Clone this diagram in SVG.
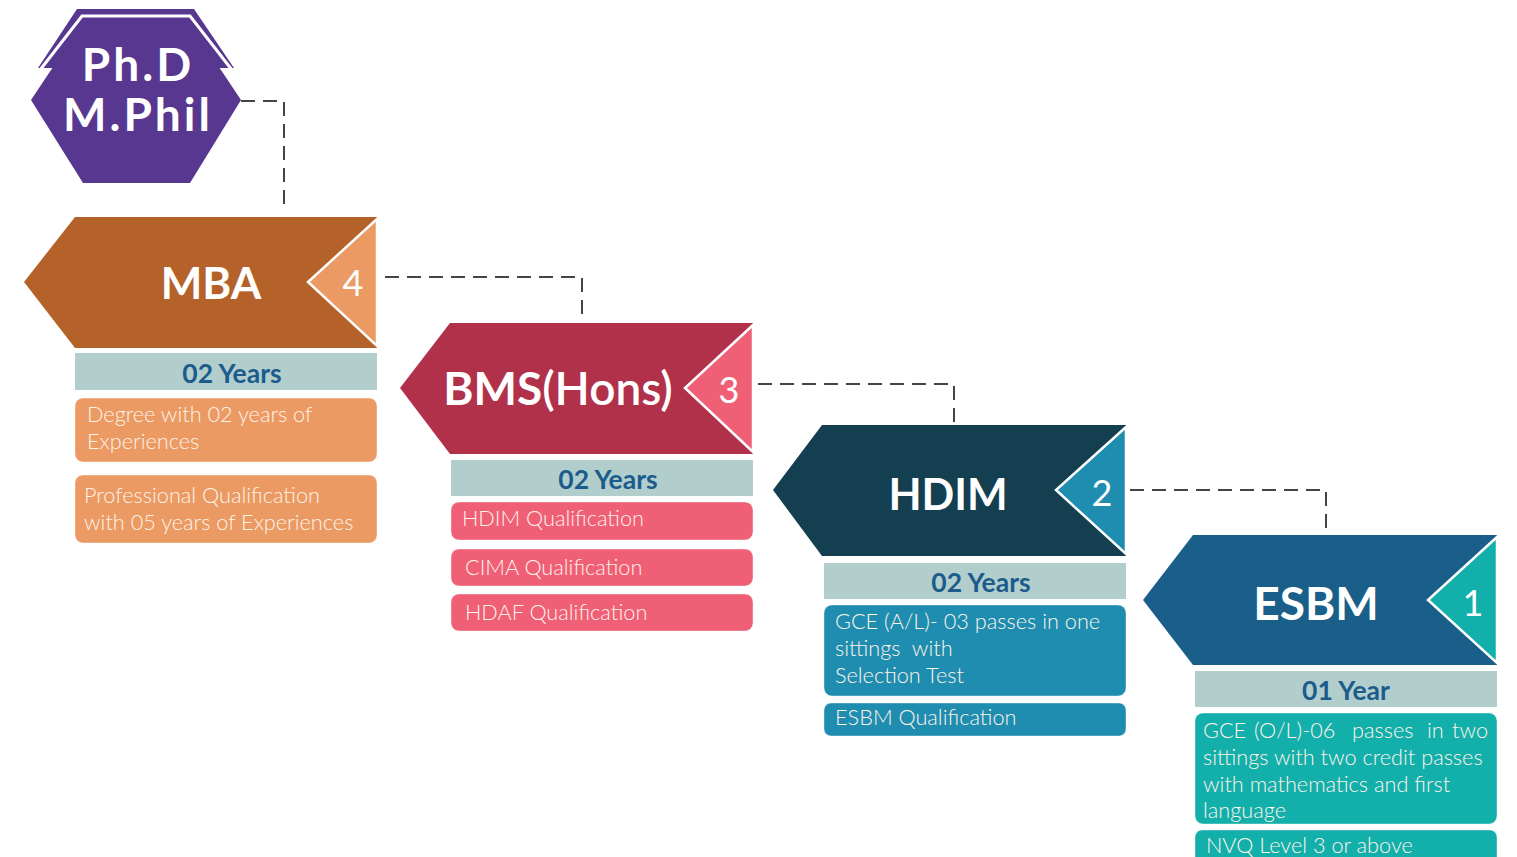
<svg xmlns="http://www.w3.org/2000/svg" width="1517" height="857" viewBox="0 0 1517 857">
<style>
.conn{fill:none;stroke:#444;stroke-width:2;stroke-dasharray:14 8}
.title{font-family:Lato,"Open Sans",sans-serif;font-weight:bold;fill:#fff;text-anchor:middle}
.num{font-family:Lato,"Open Sans",sans-serif;font-size:36px;fill:#fff;text-anchor:middle}
.yrs{font-family:Lato,"Open Sans",sans-serif;font-weight:bold;font-size:26.5px;fill:#1B5C8C;text-anchor:middle}
.bar{fill:#B2CECC}
.body{font-family:Lato,"Open Sans",sans-serif;font-size:21.7px;font-weight:300;fill:#FFF3EA}
.tri{stroke:#fff;stroke-width:2.5}
.box{stroke:#fff;stroke-opacity:0.4;stroke-width:1}
</style>
<rect width="1517" height="857" fill="#fff"/>
<g id="connectors">
<path class="conn" d="M241,101 H284 V210"/>
<path class="conn" d="M385,277 H582 V320"/>
<path class="conn" d="M758,384 H954 V424"/>
<path class="conn" d="M1130,490 H1326 V532"/>
</g>
<g id="phd">
<polygon points="38,68 77,9 194,9 234,68" fill="#57378F"/>
<polygon points="31,100 85,19 187,19 241,100 190,183 83,183" fill="#57378F"/>
<polyline points="40,70 82,16 190,16 232,70" fill="none" stroke="#fff" stroke-width="3"/>
<text class="title" x="138" y="81" font-size="46" letter-spacing="3">Ph.D</text>
<text class="title" x="138" y="131" font-size="46" letter-spacing="3">M.Phil</text>
</g>
<g id="mba">
<polygon points="24,282 75,217 377,217 377,348 75,348" fill="#B5622A"/>
<polygon class="tri" points="377,219 308,282 377,346" fill="#EA9A62"/>
<text class="title" x="211" y="299" font-size="44">MBA</text>
<text class="num" x="353" y="296">4</text>
<rect class="bar" x="75" y="353" width="302" height="37"/>
<text class="yrs" x="232" y="383">02 Years</text>
<rect class="box" x="75" y="398" width="302" height="64" rx="8" fill="#EA9A62"/>
<text class="body" x="87" y="422">Degree with 02 years of</text>
<text class="body" x="87" y="449">Experiences</text>
<rect class="box" x="75" y="475" width="302" height="68" rx="8" fill="#EA9A62"/>
<text class="body" x="84" y="503">Professional Qualification</text>
<text class="body" x="84" y="530">with 05 years of Experiences</text>
</g>
<g id="bms">
<polygon points="400,388 450,323 753,323 753,454 450,454" fill="#B2314A"/>
<polygon class="tri" points="753,325 685,388 753,452" fill="#EF5F75"/>
<text class="title" x="558" y="405" font-size="46">BMS<tspan font-weight="600">(Hons)</tspan></text>
<text class="num" x="729" y="403">3</text>
<rect class="bar" x="451" y="460" width="302" height="36"/>
<text class="yrs" x="608" y="489">02 Years</text>
<rect class="box" x="451" y="502" width="302" height="38" rx="8" fill="#EF5F75"/>
<text class="body" x="462" y="526">HDIM Qualification</text>
<rect class="box" x="451" y="549" width="302" height="37" rx="8" fill="#EF5F75"/>
<text class="body" x="465" y="575">CIMA Qualification</text>
<rect class="box" x="451" y="594" width="302" height="37" rx="8" fill="#EF5F75"/>
<text class="body" x="465" y="620">HDAF Qualification</text>
</g>
<g id="hdim">
<polygon points="773,490 822,425 1126,425 1126,556 822,556" fill="#133F50"/>
<polygon class="tri" points="1126,427 1056,490 1126,554" fill="#1E8DB0"/>
<text class="title" x="948" y="510" font-size="43">HDIM</text>
<text class="num" x="1102" y="506">2</text>
<rect class="bar" x="824" y="563" width="302" height="36"/>
<text class="yrs" x="981" y="592">02 Years</text>
<rect class="box" x="824" y="605" width="302" height="91" rx="8" fill="#1E8DB0"/>
<text class="body" x="835" y="629">GCE (A/L)- 03 passes in one</text>
<text class="body" x="835" y="656" xml:space="preserve">sittings  with</text>
<text class="body" x="835" y="683">Selection Test</text>
<rect class="box" x="824" y="703" width="302" height="33" rx="7" fill="#1E8DB0"/>
<text class="body" x="835" y="725">ESBM Qualification</text>
</g>
<g id="esbm">
<polygon points="1143,600 1193,535 1497,535 1497,665 1193,665" fill="#1A5E8A"/>
<polygon class="tri" points="1497,537 1428,600 1497,663" fill="#13AFAA"/>
<text class="title" x="1316" y="620" font-size="46">ESBM</text>
<text class="num" x="1473" y="616">1</text>
<rect class="bar" x="1195" y="671" width="302" height="36"/>
<text class="yrs" x="1346" y="700">01 Year</text>
<rect class="box" x="1195" y="713" width="302" height="111" rx="8" fill="#13AFAA"/>
<text class="body" y="738"><tspan x="1203">GCE</tspan> <tspan x="1254">(O/L)-06</tspan> <tspan x="1352">passes</tspan> <tspan x="1427">in</tspan> <tspan x="1452">two</tspan></text>
<text class="body" x="1203" y="765">sittings with two credit passes</text>
<text class="body" x="1203" y="792">with mathematics and first</text>
<text class="body" x="1203" y="818">language</text>
<rect class="box" x="1195" y="830" width="302" height="34" rx="7" fill="#13AFAA"/>
<text class="body" x="1206" y="853">NVQ Level 3 or above</text>
</g>
</svg>
